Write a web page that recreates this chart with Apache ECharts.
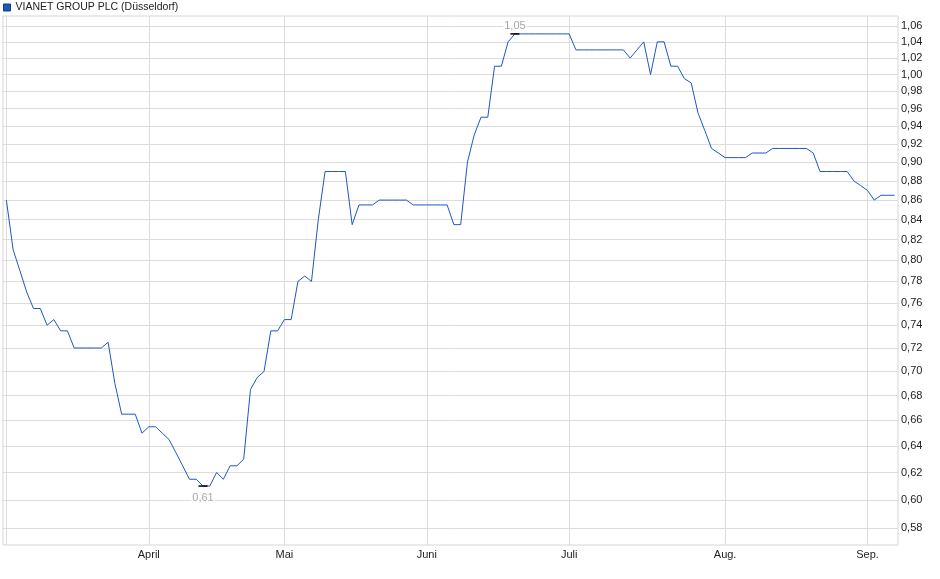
<!DOCTYPE html>
<html><head><meta charset="utf-8">
<script src="https://cdn.jsdelivr.net/npm/echarts@6/dist/echarts.min.js"></script>
<style>html,body{margin:0;padding:0;background:#fff}#c{width:940px;height:579px}</style>
</head><body><div id="c"></div>
<script>
const seriesName = 'VIANET GROUP PLC (Düsseldorf)';
const monthNames = ['März', 'April', 'Mai', 'Juni', 'Juli', 'Aug.', 'Sep.'];
const monthNumbers = [3, 4, 5, 6, 7, 8, 9];

// trading days (2025) per month
const marDays = [3,4,5,6,7,10,11,12,13,14,17,18,19,20,21,24,25,26,27,28,31];
const aprDays = [1,2,3,4,7,8,9,10,11,14,15,16,17,22,23,24,25,28,29,30];
const mayDays = [2,5,6,7,8,9,12,13,14,15,16,19,20,21,22,23,26,27,28,29,30];
const junDays = [2,3,4,5,6,9,10,11,12,13,16,17,18,19,20,23,24,25,26,27,30];
const julDays = [1,2,3,4,7,8,9,10,11,14,15,16,17,18,21,22,23,24,25,28,29,30,31];
const augDays = [1,4,5,6,7,8,11,12,13,14,15,18,19,20,21,22,25,26,27,28,29];
const sepDays = [1,2,3,4,5];

// closing prices per month (EUR)
const marPrices = [0.86,0.81,0.79,0.77,0.755,0.755,0.74,0.745,0.735,0.735,0.72,0.72,0.72,0.72,0.72,0.725,0.69,0.665,0.665,0.665,0.65];
const aprPrices = [0.655,0.655,0.65,0.645,0.635,0.625,0.615,0.615,0.61,0.61,0.62,0.615,0.625,0.625,0.63,0.685,0.695,0.70,0.735,0.735];
const mayPrices = [0.745,0.745,0.78,0.785,0.78,0.84,0.89,0.89,0.89,0.89,0.835,0.855,0.855,0.855,0.86,0.86,0.86,0.86,0.86,0.855,0.855];
const junPrices = [0.855,0.855,0.855,0.855,0.835,0.835,0.90,0.93,0.95,0.95,1.01,1.01,1.04,1.05,1.05,1.05,1.05,1.05,1.05,1.05,1.05];
const julPrices = [1.05,1.03,1.03,1.03,1.03,1.03,1.03,1.03,1.03,1.02,1.03,1.04,1.00,1.04,1.04,1.01,1.01,0.995,0.99,0.955,0.935,0.915,0.91];
const augPrices = [0.905,0.905,0.905,0.905,0.91,0.91,0.91,0.915,0.915,0.915,0.915,0.915,0.915,0.91,0.89,0.89,0.89,0.89,0.89,0.88,0.875];
const sepPrices = [0.87,0.86,0.865,0.865,0.865];

const yTickValues = [0.58,0.60,0.62,0.64,0.66,0.68,0.70,0.72,0.74,0.76,0.78,0.80,0.82,0.84,0.86,0.88,0.90,0.92,0.94,0.96,0.98,1.00,1.02,1.04,1.06];
const yMin = 0.5683;
const yMax = 1.0728;

const tradingDays = [marDays, aprDays, mayDays, junDays, julDays, augDays, sepDays];
const monthPrices = [marPrices, aprPrices, mayPrices, junPrices, julPrices, augPrices, sepPrices];

const pad = n => (n < 10 ? '0' : '') + n;
const categories = [];
const monthStart = {};
tradingDays.forEach((days, m) => {
  days.forEach((d, k) => {
    if (k === 0 && m > 0) monthStart[categories.length] = monthNames[m];
    categories.push(pad(d) + '.' + pad(monthNumbers[m]) + '.2025');
  });
});
const prices = [];
monthPrices.forEach(arr => arr.forEach(v => prices.push(v)));

const fmt = v => v.toFixed(2).replace('.', ',');
const lineColor = '#1c58c2';
const gridColor = '#dcdcdc';

const chart = echarts.init(document.getElementById('c'));
chart.setOption({
  animation: false,
  textStyle: { fontFamily: '"Liberation Sans", Arial, sans-serif' },
  legend: {
    left: 0, top: 0, padding: [2, 0, 0, 3],
    icon: 'rect', itemWidth: 7, itemHeight: 7, itemGap: 5,
    textStyle: { fontSize: 10.5, color: '#222' },
    data: [{ name: seriesName, itemStyle: { color: lineColor, borderColor: '#143a80', borderWidth: 1 } }]
  },
  grid: { left: 3, right: 42, top: 16, bottom: 34, show: true, borderColor: '#d6d6d6', borderWidth: 1 },
  xAxis: {
    type: 'category', data: categories, boundaryGap: true,
    axisLine: { show: false }, axisTick: { show: false },
    axisLabel: {
      interval: (i) => (i in monthStart),
      formatter: (v, i) => monthStart[i] || '',
      fontSize: 11, color: '#222', margin: 4
    },
    splitLine: {
      show: true, alignWithLabel: true,
      interval: (i) => (i === 0 || (i in monthStart)),
      lineStyle: { color: gridColor, width: 1 }
    }
  },
  yAxis: {
    type: 'value', position: 'right',
    min: Math.log(yMin), max: Math.log(yMax),
    axisLine: { show: false },
    axisTick: { show: false, customValues: yTickValues.map(v => Math.log(v)) },
    axisLabel: {
      customValues: yTickValues.map(v => Math.log(v)),
      formatter: v => fmt(Math.exp(v)),
      fontSize: 11, color: '#222', margin: 3
    },
    splitLine: { show: true, lineStyle: { color: gridColor, width: 1 } }
  },
  series: [{
    name: seriesName, type: 'line',
    data: prices.map(v => Math.log(v)),
    symbol: 'none', showSymbol: false,
    lineStyle: { color: lineColor, width: 1 },
    itemStyle: { color: lineColor },
    markPoint: {
      symbol: 'rect', symbolSize: [9, 1.5],
      itemStyle: { color: '#000' },
      label: {
        show: true, formatter: p => fmt(Math.exp(p.value)),
        color: '#a8a8a8', fontSize: 11, backgroundColor: '#fff', padding: [0, 1]
      },
      data: [
        { type: 'max', label: { position: 'top', distance: 2 } },
        { type: 'min', label: { position: 'bottom', distance: 6 } }
      ]
    }
  }]
});
</script></body></html>
